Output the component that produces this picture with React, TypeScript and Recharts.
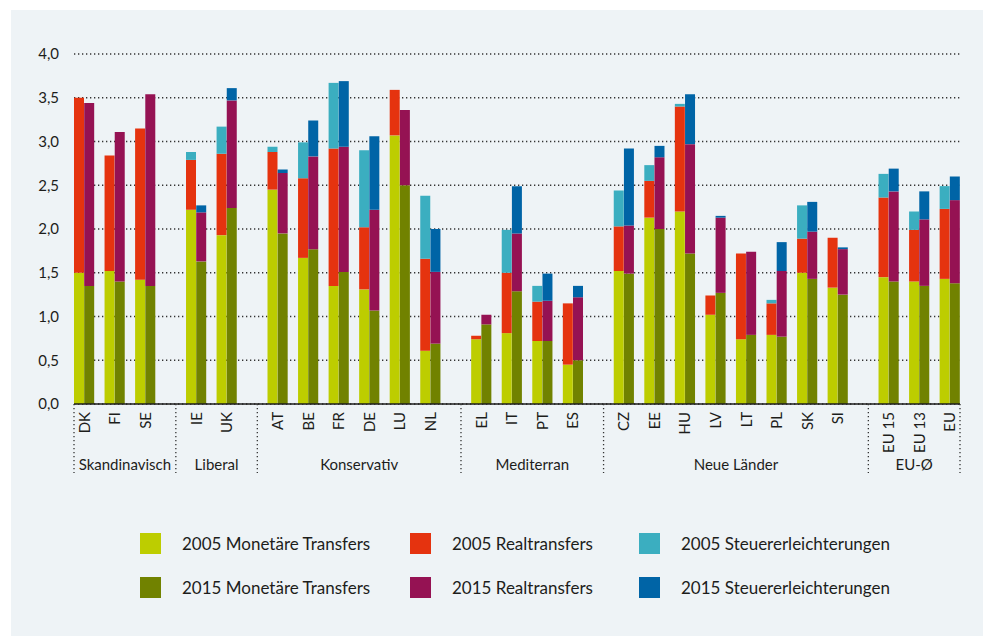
import React from 'react';
import { BarChart, Bar, XAxis, YAxis, CartesianGrid } from 'recharts';

const groupNames = ['Skandinavisch', 'Liberal', 'Konservativ', 'Mediterran', 'Neue Länder', 'EU-Ø'];
const groupSizes = [3, 2, 6, 4, 8, 3];
const countries = ['DK', 'FI', 'SE', 'IE', 'UK', 'AT', 'BE', 'FR', 'DE', 'LU', 'NL', 'EL', 'IT', 'PT', 'ES', 'CZ', 'EE', 'HU', 'LV', 'LT', 'PL', 'SK', 'SI', 'EU 15', 'EU 13', 'EU'];

const monetary2005 = [1.50, 1.52, 1.42, 2.22, 1.93, 2.45, 1.67, 1.35, 1.31, 3.07, 0.61, 0.74, 0.81, 0.72, 0.45, 1.52, 2.13, 2.20, 1.02, 0.74, 0.79, 1.50, 1.33, 1.45, 1.40, 1.43];
const real2005 = [2.00, 1.32, 1.73, 0.57, 0.93, 0.43, 0.91, 1.57, 0.71, 0.52, 1.05, 0.04, 0.69, 0.45, 0.70, 0.51, 0.42, 1.20, 0.22, 0.98, 0.36, 0.39, 0.57, 0.91, 0.59, 0.80];
const tax2005 = [0, 0, 0, 0.09, 0.31, 0.06, 0.41, 0.75, 0.88, 0, 0.72, 0, 0.49, 0.18, 0, 0.41, 0.18, 0.03, 0, 0, 0.04, 0.38, 0, 0.27, 0.21, 0.26];
const monetary2015 = [1.35, 1.40, 1.35, 1.63, 2.24, 1.95, 1.77, 1.51, 1.07, 2.50, 0.69, 0.91, 1.29, 0.72, 0.50, 1.49, 2.00, 1.72, 1.27, 0.79, 0.77, 1.43, 1.25, 1.40, 1.35, 1.38];
const real2015 = [2.09, 1.71, 2.19, 0.56, 1.23, 0.69, 1.06, 1.43, 1.15, 0.86, 0.82, 0.11, 0.66, 0.46, 0.72, 0.55, 0.82, 1.25, 0.86, 0.95, 0.75, 0.54, 0.52, 1.03, 0.76, 0.95];
const tax2015 = [0, 0, 0, 0.08, 0.14, 0.04, 0.41, 0.75, 0.84, 0, 0.49, 0, 0.54, 0.31, 0.13, 0.88, 0.13, 0.57, 0.02, 0, 0.33, 0.34, 0.02, 0.26, 0.32, 0.27];

const yTicks = [0, 0.5, 1, 1.5, 2, 2.5, 3, 3.5, 4];

const seriesNames = [
  '2005 Monetäre Transfers', '2005 Realtransfers', '2005 Steuererleichterungen',
  '2015 Monetäre Transfers', '2015 Realtransfers', '2015 Steuererleichterungen',
];
const seriesKeys = ['m05', 'r05', 't05', 'm15', 'r15', 't15'];
const seriesColors = ['#bdcd00', '#e5330f', '#3baec0', '#718200', '#951253', '#0064a6'];

type Row = {
  id: string;
  label?: string;
  sepLeft?: boolean;
  sepRight?: boolean;
  group?: string;
  groupUnits?: number;
  [k: string]: any;
};

const rows: Row[] = [];
(() => {
  let ci = 0;
  let gapN = 0;
  const last = groupNames.length - 1;
  groupNames.forEach((g, gi) => {
    const size = groupSizes[gi];
    const span = (gi === 0 ? 0 : 1) + size * 3 - 1 + (gi === last ? 0 : 2);
    if (gi > 0) rows.push({ id: 'gap' + gapN++, sepLeft: true, group: g, groupUnits: span });
    for (let k = 0; k < size; k++, ci++) {
      const c = countries[ci];
      const first: Row = { id: c + '|2005', label: c, m05: monetary2005[ci], r05: real2005[ci], t05: tax2005[ci] };
      if (gi === 0 && k === 0) Object.assign(first, { sepLeft: true, group: g, groupUnits: span });
      rows.push(first);
      rows.push({ id: c + '|2015', m15: monetary2015[ci], r15: real2015[ci], t15: tax2015[ci], sepRight: gi === last && k === size - 1 });
      if (k < size - 1) rows.push({ id: 'gap' + gapN++ });
    }
    if (gi < last) {
      rows.push({ id: 'gap' + gapN++ });
      rows.push({ id: 'gap' + gapN++ });
    }
  });
})();
const rowById = new Map(rows.map((r) => [r.id, r]));

const FONT = 'Lato, "Noto Sans", sans-serif';
const TEXT = '#1d1d1b';

const AxisTick = (props: any) => {
  const { x, y, payload } = props;
  const row = rowById.get(payload.value);
  if (!row) return null;
  const half = payload.offset ?? 0;
  const bw = half * 2;
  const sepStyle = { stroke: '#333', strokeWidth: 1.3, strokeDasharray: '1.3 2.7' };
  const sepTop = y;
  const sepBottom = y + 69;
  return (
    <g>
      {row.label && (
        <text
          transform={`translate(${x + half},${y + 8}) rotate(-90)`}
          textAnchor="end"
          dy="0.36em"
          fontSize={15}
          fontFamily={FONT}
          fill={TEXT}
        >
          {row.label}
        </text>
      )}
      {row.sepLeft && <line x1={x - half} x2={x - half} y1={sepTop} y2={sepBottom} {...sepStyle} />}
      {row.sepRight && <line x1={x + half} x2={x + half} y1={sepTop} y2={sepBottom} {...sepStyle} />}
      {row.group && (
        <text
          x={x - half + ((row.groupUnits ?? 0) * bw) / 2}
          y={y + 66}
          textAnchor="middle"
          fontSize={15}
          fontFamily={FONT}
          fill={TEXT}
        >
          {row.group}
        </text>
      )}
    </g>
  );
};

const legendCols = [140, 410, 639];
const legendRows = [533, 577];

export default function App() {
  return (
    <div style={{ position: 'absolute', left: 0, top: 0, width: 983, height: 636, background: '#ffffff', overflow: 'hidden' }}>
      <div style={{ position: 'absolute', left: 11, top: 10, width: 972, height: 626, background: '#eef3f6' }} />
      <div style={{ position: 'absolute', left: 0, top: 0 }}>
        <BarChart
          width={983}
          height={636}
          data={rows}
          margin={{ top: 54, right: 23, bottom: 152, left: 0 }}
          barCategoryGap={0}
          barGap={0}
        >
          <CartesianGrid vertical={false} stroke="#333" strokeWidth={1.3} strokeDasharray="1.3 2.7" />
          <XAxis
            dataKey="id"
            type="category"
            interval={0}
            height={80}
            tickLine={false}
            tickSize={0}
            tickMargin={0}
            axisLine={{ stroke: '#1d1d1b', strokeWidth: 1.6 }}
            tick={<AxisTick />}
          />
          <YAxis
            type="number"
            domain={[0, 4]}
            ticks={yTicks}
            width={74}
            axisLine={false}
            tickLine={false}
            tickSize={0}
            tickMargin={15}
            tickFormatter={(v: number) => v.toFixed(1).replace('.', ',')}
            tick={{ fontSize: 15, fill: TEXT, fontFamily: FONT }}
          />
          {seriesKeys.map((k, i) => (
            <Bar key={k} dataKey={k} name={seriesNames[i]} stackId="s" fill={seriesColors[i]} isAnimationActive={false} />
          ))}
        </BarChart>
      </div>
      {seriesNames.map((n, i) => {
        const col = i % 3;
        const r = Math.floor(i / 3);
        return (
          <div
            key={n}
            style={{
              position: 'absolute',
              left: legendCols[col],
              top: legendRows[r],
              height: 21,
              display: 'flex',
              alignItems: 'center',
              fontFamily: FONT,
              fontSize: 17,
              color: TEXT,
              whiteSpace: 'nowrap',
            }}
          >
            <span style={{ display: 'inline-block', width: 21, height: 21, background: seriesColors[i], marginRight: 21 }} />
            <span>{n}</span>
          </div>
        );
      })}
    </div>
  );
}
